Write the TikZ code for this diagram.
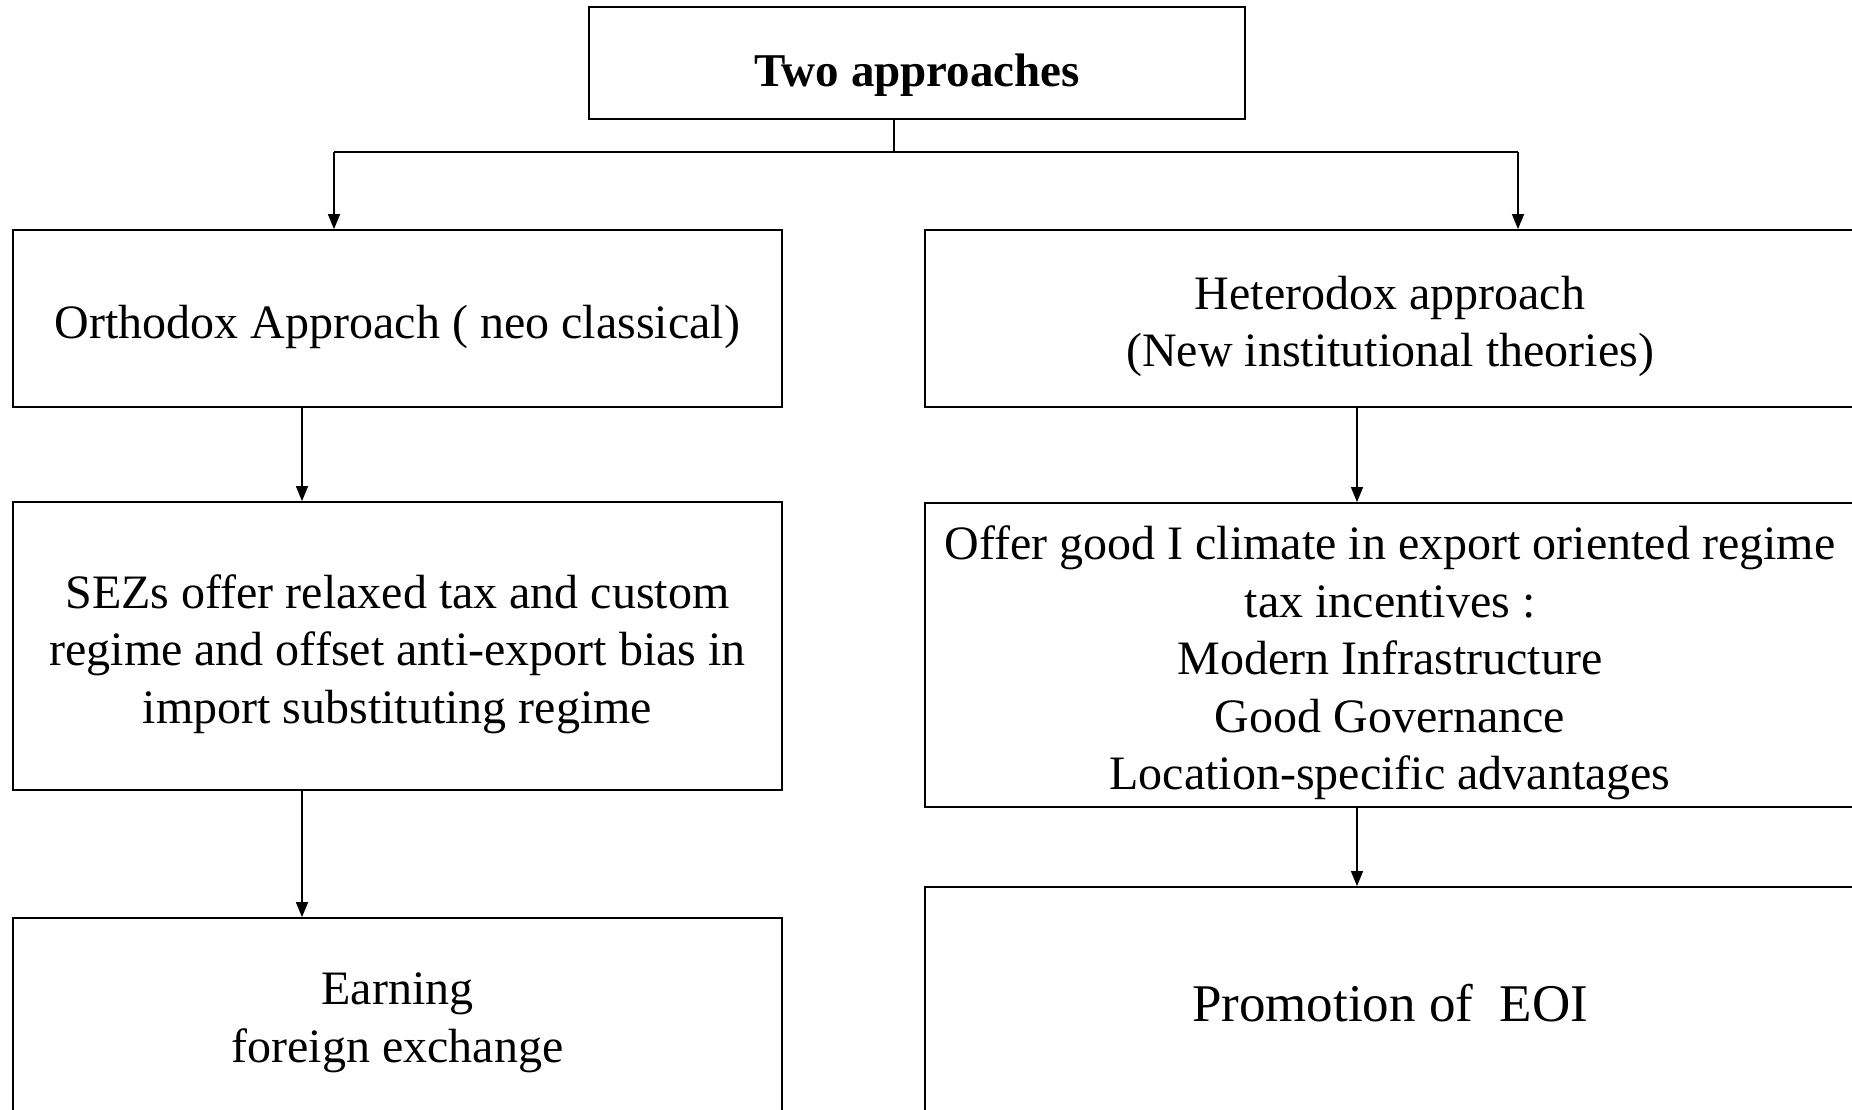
\documentclass[tikz,border=0pt]{standalone}
\usepackage{fontspec}
\setmainfont{Liberation Serif}
\usetikzlibrary{arrows.meta}
\tikzset{
  box/.style={draw=black, line width=1.8pt, rectangle, inner sep=0pt},
  txt/.style={inner sep=0pt, align=center, font=\fontsize{48}{57.5}\selectfont},
  conn/.style={line width=1.4pt, draw=black},
  arr/.style={conn, -{Triangle[length=15pt,width=12pt]}}
}
\begin{document}
\begin{tikzpicture}[x=1pt,y=-1pt]
\useasboundingbox (0,0) rectangle (1852,1109);
\clip (0,0) rectangle (1852,1109);
\fill[white] (0,0) rectangle (1852,1109);
% boxes
\node[box, minimum width=656pt, minimum height=112pt] (top) at (917,63) {};
\node[box, minimum width=769pt, minimum height=177pt] (ortho) at (397.5,318.5) {};
\node[box, minimum width=930pt, minimum height=177pt] (hetero) at (1390,318.5) {};
\node[box, minimum width=769pt, minimum height=288pt] (sez) at (397.5,646) {};
\node[box, minimum width=930pt, minimum height=304pt] (offer) at (1390,655) {};
\node[box, minimum width=769pt, minimum height=204pt] (earn) at (397.5,1020) {};
\node[box, minimum width=930pt, minimum height=232pt] (eoi) at (1390,1003) {};
% texts
\node[txt, font=\fontsize{47}{56}\selectfont\bfseries, yshift=-12pt] (topT) at (top.center) {Two approaches};
\node[txt, yshift=-8pt] (orthoT) at (ortho.center) {Orthodox Approach ( neo classical)};
\node[txt, yshift=-8pt] (heteroT) at (hetero.center) {Heterodox approach\\(New institutional theories)};
\node[txt, yshift=-8pt] (sezT) at (sez.center) {SEZs offer relaxed tax and custom\\regime and offset anti-export bias in\\import substituting regime};
\node[txt, yshift=-8pt] (offerT) at (offer.center) {Offer good I climate in export oriented regime\\tax incentives :\\Modern Infrastructure\\Good Governance\\Location-specific advantages};
\node[txt, yshift=-3pt] (earnT) at (earn.center) {Earning\\foreign exchange};
\node[txt, font=\fontsize{53}{60}\selectfont] (eoiT) at (eoi.center) {Promotion of~ EOI};
% bus coordinates
\coordinate (busM) at (894,152);
\coordinate (busL) at (334,152);
\coordinate (busR) at (1518,152);
\coordinate (lc) at (302,0);
\coordinate (rc) at (1357,0);
% connectors
\draw[conn] (top.south -| busM) -- (busM);
\draw[conn] (busL) -- (busR);
\draw[arr] (busL) -- (ortho.north -| busL);
\draw[arr] (busR) -- (hetero.north -| busR);
\draw[arr] (ortho.south -| lc) -- (sez.north -| lc);
\draw[arr] (sez.south -| lc) -- (earn.north -| lc);
\draw[arr] (hetero.south -| rc) -- (offer.north -| rc);
\draw[arr] (offer.south -| rc) -- (eoi.north -| rc);
\end{tikzpicture}
\end{document}
